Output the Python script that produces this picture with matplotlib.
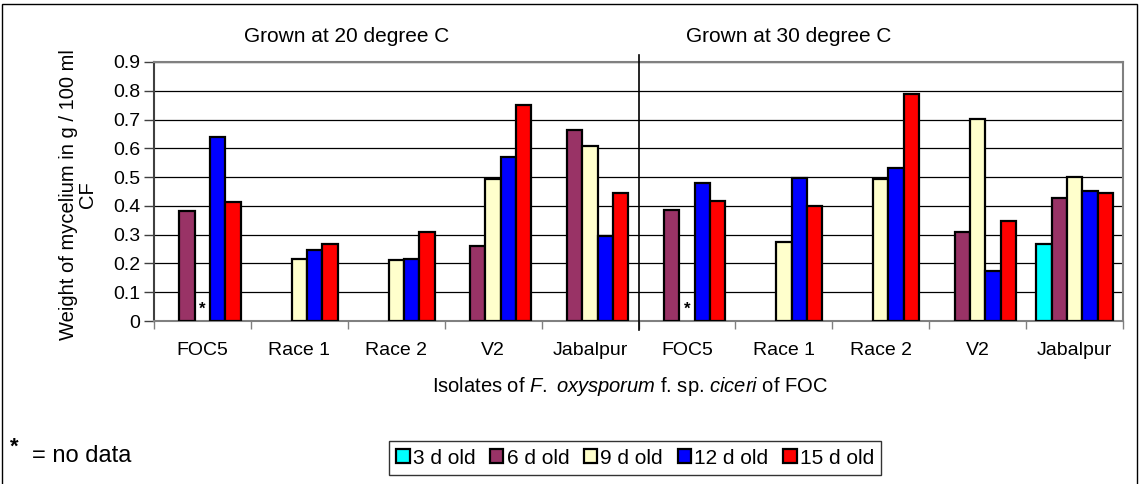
import numpy as np
import matplotlib
matplotlib.use("Agg")
import matplotlib.pyplot as plt
from matplotlib.patches import Rectangle

plt.rcParams["font.family"] = ["Liberation Sans", "DejaVu Sans"]
plt.rcParams["mathtext.fontset"] = "custom"
plt.rcParams["mathtext.rm"] = "Liberation Sans"
plt.rcParams["mathtext.it"] = "Liberation Sans:italic"

nan = np.nan
isolates = ["FOC5", "Race 1", "Race 2", "V2", "Jabalpur"]
categories = isolates + isolates
temps = ["Grown at 20 degree C", "Grown at 30 degree C"]

series = ["3 d old", "6 d old", "9 d old", "12 d old", "15 d old"]
d3 = [nan, nan, nan, nan, nan, nan, nan, nan, nan, 0.266]
d6 = [0.383, nan, nan, 0.259, 0.662, 0.385, nan, nan, 0.311, 0.426]
d9 = [nan, 0.216, 0.212, 0.493, 0.607, nan, 0.274, 0.494, 0.702, 0.499]
d12 = [0.640, 0.245, 0.216, 0.571, 0.296, 0.478, 0.496, 0.533, 0.174, 0.453]
d15 = [0.415, 0.266, 0.308, 0.750, 0.446, 0.417, 0.401, 0.789, 0.348, 0.444]
values = [d3, d6, d9, d12, d15]
colors = ["#00FFFF", "#993366", "#FFFFCC", "#0000FF", "#FF0000"]

# groups with no data for 9 d old (marked with *)
no_data_idx = [0, 5]

W, H = 1139, 484
fig = plt.figure(figsize=(W / 100, H / 100), dpi=100)
ax = fig.add_axes([154 / W, 1 - 321 / H, 969 / W, 259 / H])

x = np.arange(len(categories))
w = 0.158
for i, (name, vals, c) in enumerate(zip(series, values, colors)):
    ax.bar(x + (i - 2) * w, vals, w, color=c, edgecolor="black",
           linewidth=1.6, label=name, zorder=3)

for k in no_data_idx:
    ax.text(x[k], 0.04, "*", ha="center", va="center", fontsize=12,
            fontweight="bold", zorder=4)

ax.set_xlim(-0.5, len(categories) - 0.5)
ax.set_ylim(0, 0.9)
ax.set_yticks(np.arange(0, 0.91, 0.1))
ax.set_yticklabels(["0"] + ["%.1f" % v for v in np.arange(0.1, 0.91, 0.1)])
ax.yaxis.grid(True, color="black", linewidth=0.9, zorder=0)
ax.set_axisbelow(True)

ax.set_xticks(np.arange(-0.5, len(categories) + 0.5, 1))
ax.set_xticklabels([])
ax.set_xticks(x, minor=True)
ax.set_xticklabels(categories, minor=True)
ax.tick_params(axis="x", which="major", direction="out", length=6,
               width=1, color="#808080")
ax.tick_params(axis="x", which="minor", length=0, pad=15, labelsize=14)
ax.tick_params(axis="y", direction="out", length=7, width=1,
               color="#404040", pad=3, labelsize=14)

for s in ["top", "right", "bottom"]:
    ax.spines[s].set_color("#808080")
    ax.spines[s].set_linewidth(1.5)
ax.spines["left"].set_color("#404040")
ax.spines["left"].set_linewidth(1.5)

# divider between temperatures
ax.plot([4.5, 4.5], [-0.03, 0.925], color="black", linewidth=1.2,
        clip_on=False, zorder=5)

fig.text(347 / W, 1 - 37 / H, temps[0], ha="center", va="center", fontsize=15)
fig.text(789 / W, 1 - 37 / H, temps[1], ha="center", va="center", fontsize=15)

fig.text(78 / W, 1 - 195 / H, "Weight of mycelium in g / 100 ml\nCF",
         rotation=90, ha="center", va="center", multialignment="center",
         fontsize=14.5, linespacing=1.05)
fig.text(630 / W, 1 - 387 / H,
         "Isolates of $F.$ $oxysporum$ f. sp. $ciceri$ of FOC",
         ha="center", va="center", fontsize=14.5)

leg = ax.legend(loc="center", bbox_to_anchor=(635 / W, 1 - 458 / H),
                bbox_transform=fig.transFigure, ncol=5, fontsize=15,
                frameon=True, fancybox=False, edgecolor="black",
                handlelength=0.65, handleheight=0.65, handletextpad=0.15,
                columnspacing=0.7, borderpad=0.35, borderaxespad=0)
leg.get_frame().set_linewidth(1.0)
for h in leg.legend_handles:
    h.set_linewidth(1.6)

fig.text(10 / W, 1 - 447 / H, "*", fontsize=16, fontweight="bold",
         ha="left", va="center")
fig.text(32 / W, 1 - 456 / H, "= no data", fontsize=17, ha="left",
         va="center")

fig.patches.append(Rectangle((2 / W, -0.01), 1135 / W, 1 - 4 / H + 0.01,
                             transform=fig.transFigure, fill=False,
                             edgecolor="black", linewidth=1.0))

plt.savefig("out.png", dpi=100)
